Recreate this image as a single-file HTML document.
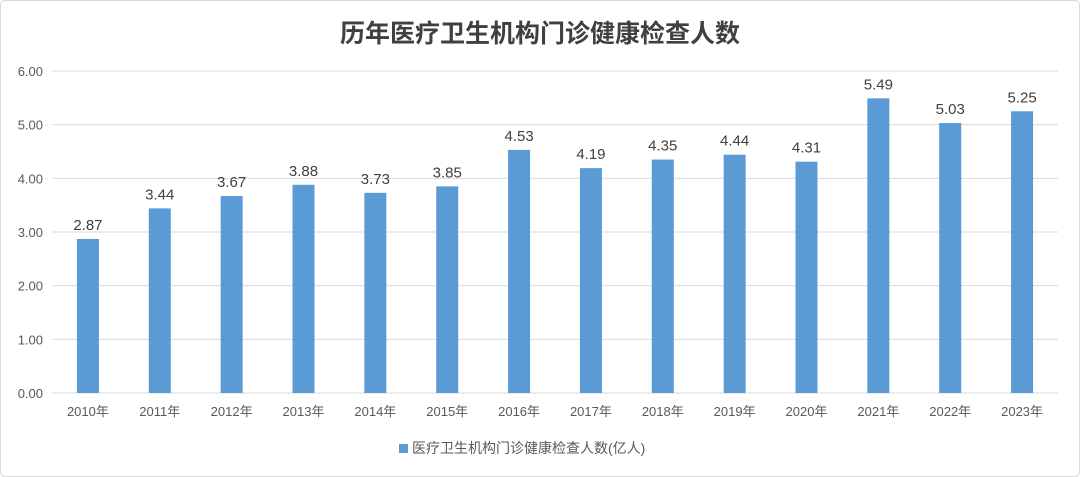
<!DOCTYPE html>
<html><head><meta charset="utf-8"><style>
body{margin:0;background:#fff;}
svg{display:block;font-family:"Liberation Sans","Noto Sans CJK SC",sans-serif;}
</style></head><body>
<svg id="c" width="1080" height="477">
<rect x="0.5" y="0.5" width="1079" height="476" rx="4" fill="#fff" stroke="#d9d9d9"/>
<text x="540" y="42" text-anchor="middle" font-size="25" font-weight="bold" fill="#404040" font-family="'Liberation Sans','Noto Sans CJK SC',sans-serif">历年医疗卫生机构门诊健康检查人数</text>
<g id="grid"></g><g id="bars"></g><g id="labels"></g>
<g>
<rect x="399" y="444" width="9" height="9" fill="#5b9bd5"/>
<text x="412" y="453" font-size="14" fill="#595959">医疗卫生机构门诊健康检查人数(亿人)</text>
</g>
</svg>
<script>
const categories=["2010年","2011年","2012年","2013年","2014年","2015年","2016年","2017年","2018年","2019年","2020年","2021年","2022年","2023年"];
const values=[2.87,3.44,3.67,3.88,3.73,3.85,4.53,4.19,4.35,4.44,4.31,5.49,5.03,5.25];
const yTicks=[0,1,2,3,4,5,6];
const yTickLabels=["0.00","1.00","2.00","3.00","4.00","5.00","6.00"];
const NS="http://www.w3.org/2000/svg";
const left=52,right=1058,y0=393,y6=71;
const y=v=>y0-(v/6)*(y0-y6);
const band=(right-left)/categories.length;
const x=i=>left+band*(i+0.5);
function mk(t,a,p){const e=document.createElementNS(NS,t);for(const k in a)e.setAttribute(k,a[k]);p.appendChild(e);return e;}
const g=document.getElementById('grid'),b=document.getElementById('bars'),l=document.getElementById('labels');
yTicks.forEach((t,i)=>{
 const ln=mk('line',{x1:left,x2:right,y1:y(t),y2:y(t),stroke:'#d9d9d9','stroke-width':1},g);
 
 
 const tx=mk('text',{x:43,y:y(t)+5,'text-anchor':'end','font-size':13,fill:'#595959'},g);
 tx.textContent=yTickLabels[i];
 
 
});
categories.forEach((c,i)=>{
 const r=mk('rect',{x:x(i)-11,y:y(values[i]),width:22,height:y0-y(values[i]),fill:'#5b9bd5'},b);
 
 
 const v=mk('text',{x:x(i),y:y(values[i])-9,'text-anchor':'middle','font-size':15,fill:'#404040'},l);
 v.textContent=values[i].toFixed(2);
 
 
 const t=mk('text',{x:x(i),y:416,'text-anchor':'middle','font-size':13,fill:'#595959'},l);
 t.textContent=c;
 
 
});
</script>
</body></html>
